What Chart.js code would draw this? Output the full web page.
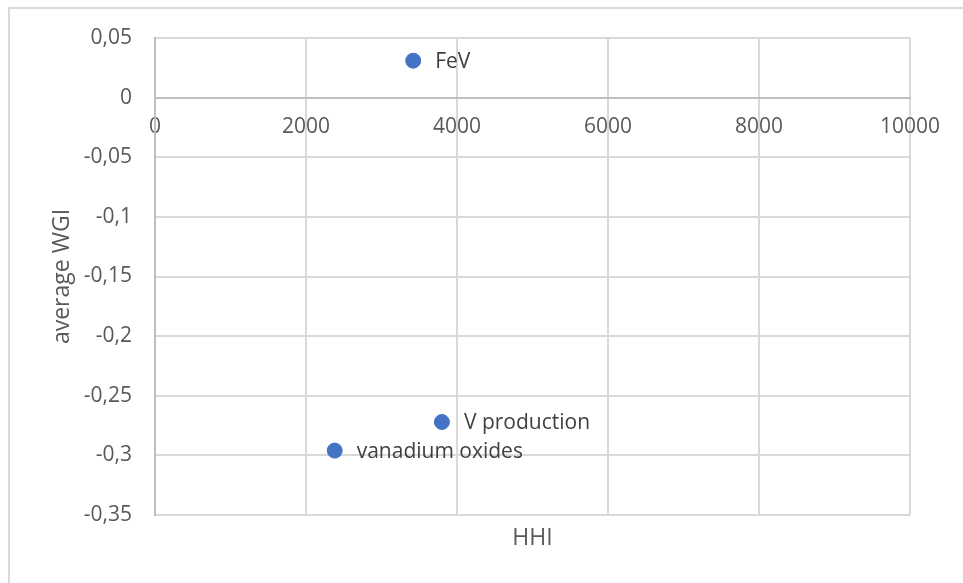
<!DOCTYPE html>
<html>
<head>
<meta charset="utf-8">
<script src="https://cdn.jsdelivr.net/npm/chart.js@4/dist/chart.umd.min.js"></script>
<style>
  html, body { margin:0; padding:0; background:#fff; }
  #wrap { position:relative; width:963px; height:583px; overflow:hidden; }
  #frame { position:absolute; left:8px; top:7px; width:1200px; height:1200px; border:2px solid #d9d9d9; }
  #chart { position:absolute; left:0; top:0; }
</style>
</head>
<body>
<div id="wrap">
  <div id="frame"></div>
  <canvas id="chart" width="963" height="583"></canvas>
</div>
<script>
// values
const names = ["FeV", "V production", "vanadium oxides"];
const hhi = [3420, 3800, 2380];
const wgi = [0.031, -0.272, -0.296];

const xMin = 0, xMax = 10000, xStep = 2000;
const yMin = -0.35, yMax = 0.05, yStep = 0.05;

const FONT = "'Open Sans', 'Noto Sans', sans-serif";

function fmtComma(v){
    const r = Math.round(v*100)/100;
    return String(r).replace('.', ',');
}

// draws the name next to each point
const pointLabels = {
    id: 'pointLabels',
    afterDatasetsDraw(chart){
        const ctx = chart.ctx;
        const meta = chart.getDatasetMeta(0);
        ctx.save();
        ctx.font = "21px " + FONT;
        ctx.fillStyle = "#404040";
        ctx.textAlign = "left";
        ctx.textBaseline = "middle";
        meta.data.forEach((pt, i) => {
            ctx.fillText(names[i], pt.x + 22, pt.y + 1);
        });
        ctx.restore();
    }
};

new Chart(document.getElementById("chart"), {
    type: 'scatter',
    data: {
        datasets: [{
            data: hhi.map((x, i) => ({x: x, y: wgi[i]})),
            backgroundColor: '#4472C4',
            borderColor: '#4472C4',
            pointRadius: 7.5,
            pointHoverRadius: 7.5
        }]
    },
    options: {
        responsive: false,
        animation: false,
        layout: { padding: { left: 0, right: 53, top: 38, bottom: 0 } },
        plugins: { legend: { display: false }, tooltip: { enabled: false } },
        scales: {
            x: {
                type: 'linear',
                position: { y: 0 },
                min: xMin, max: xMax,
                ticks: {
                    stepSize: xStep,
                    color: '#595959',
                    font: { family: FONT, size: 21 },
                    padding: 17,
                    maxRotation: 0,
                    callback: v => String(v)
                },
                grid: { color: '#d9d9d9', lineWidth: 2, drawTicks: false },
                border: { color: '#bfbfbf', width: 2 }
            },
            x2: {
                type: 'linear',
                position: 'bottom',
                min: xMin, max: xMax,
                ticks: { display: false },
                grid: { display: false, drawTicks: false },
                border: { display: false },
                title: {
                    display: true,
                    text: 'HHI',
                    color: '#595959',
                    font: { family: FONT, size: 23 },
                    padding: { top: 0, bottom: 31 }
                },
                afterFit(scale){ scale.height = 68; }
            },
            y: {
                type: 'linear',
                position: 'left',
                min: yMin, max: yMax,
                ticks: {
                    stepSize: yStep,
                    color: '#595959',
                    font: { family: FONT, size: 21 },
                    padding: 23,
                    callback: v => fmtComma(v)
                },
                grid: { color: '#d9d9d9', lineWidth: 2, drawTicks: false },
                border: { color: '#bfbfbf', width: 2 },
                title: {
                    display: true,
                    text: 'average WGI',
                    color: '#595959',
                    font: { family: FONT, size: 23 },
                    padding: { top: 49, bottom: 0 }
                },
                afterFit(scale){ scale.width = 155; }
            }
        }
    },
    plugins: [pointLabels]
});
</script>
</body>
</html>
